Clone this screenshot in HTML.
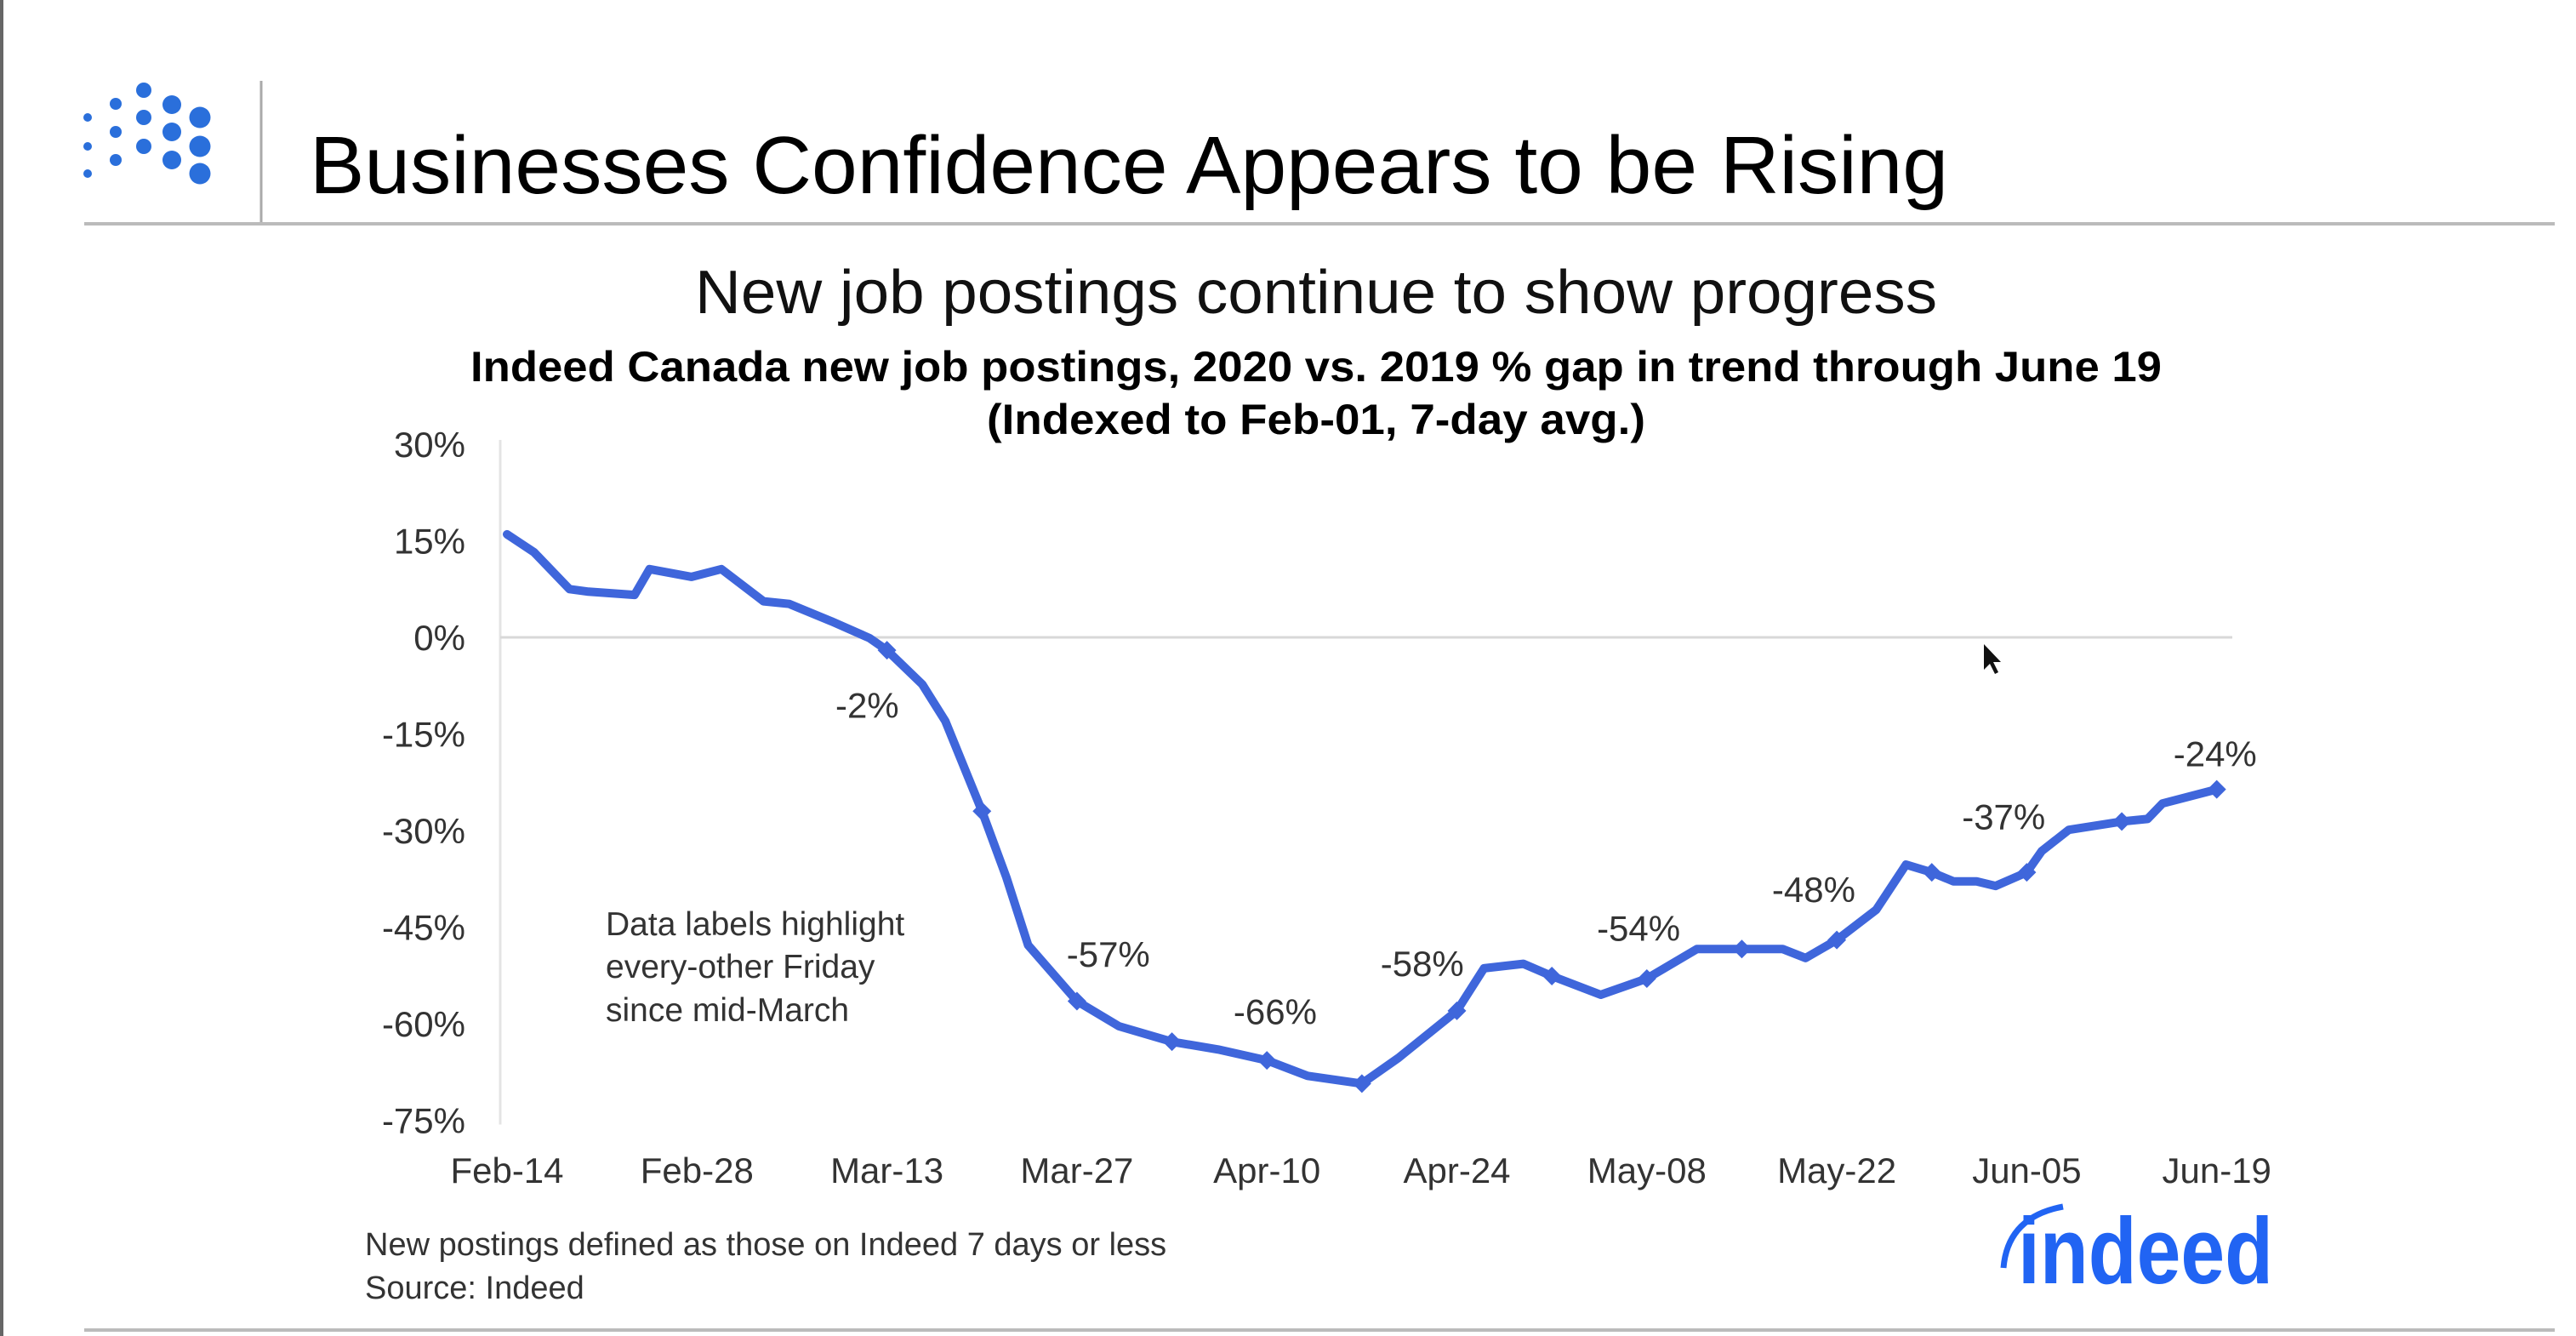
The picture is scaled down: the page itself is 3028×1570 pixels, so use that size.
<!DOCTYPE html>
<html><head><meta charset="utf-8">
<style>
html,body{margin:0;padding:0;background:#fff;}
svg{display:block;font-family:"Liberation Sans",sans-serif;}
</style></head>
<body>
<svg id="chart" width="3028" height="1570" viewBox="0 0 3028 1570">
  <rect x="0" y="0" width="3028" height="1570" fill="#fff"/>
  <rect x="0" y="0" width="4" height="1570" fill="#666"/>
  <g id="logo" fill="#2a6fdb">
    <circle cx="103" cy="138" r="5"/><circle cx="103" cy="172" r="5"/><circle cx="103" cy="204" r="5"/>
    <circle cx="136" cy="122" r="7"/><circle cx="136" cy="155" r="7"/><circle cx="136" cy="188" r="7"/>
    <circle cx="169" cy="106" r="9"/><circle cx="169" cy="138" r="9"/><circle cx="169" cy="172" r="9"/>
    <circle cx="202" cy="123" r="11"/><circle cx="202" cy="155" r="11"/><circle cx="202" cy="188" r="11"/>
    <circle cx="235" cy="138" r="12.5"/><circle cx="235" cy="172" r="12.5"/><circle cx="235" cy="204" r="12.5"/>
  </g>
  <line x1="307" y1="95" x2="307" y2="261" stroke="#aaa" stroke-width="3"/>
  <line x1="99" y1="263" x2="3003" y2="263" stroke="#bbb" stroke-width="4"/>
  <line x1="99" y1="1563" x2="3003" y2="1563" stroke="#bbb" stroke-width="4"/>
  <text x="364" y="227" font-size="96" fill="#000" textLength="1926" lengthAdjust="spacingAndGlyphs">Businesses Confidence Appears to be Rising</text>
  <text x="1547" y="368" font-size="72" fill="#111" text-anchor="middle" textLength="1460" lengthAdjust="spacingAndGlyphs">New job postings continue to show progress</text>
  <text x="1547" y="448" font-size="50" font-weight="bold" fill="#000" text-anchor="middle" textLength="1988" lengthAdjust="spacingAndGlyphs">Indeed Canada new job postings, 2020 vs. 2019 % gap in trend through June 19</text>
  <text x="1547" y="510" font-size="50" font-weight="bold" fill="#000" text-anchor="middle" textLength="774" lengthAdjust="spacingAndGlyphs">(Indexed to Feb-01, 7-day avg.)</text>
  <g id="axes"></g>
  <g id="series"></g>
  <text font-size="39" fill="#333">
    <tspan x="712" y="1099">Data labels highlight</tspan>
    <tspan x="712" y="1149">every-other Friday</tspan>
    <tspan x="712" y="1200">since mid-March</tspan>
  </text>
  <text font-size="38" fill="#333">
    <tspan x="429" y="1475">New postings defined as those on Indeed 7 days or less</tspan>
    <tspan x="429" y="1526">Source: Indeed</tspan>
  </text>
  <g>
    <text x="2372" y="1508" font-size="110" font-weight="bold" fill="#2164f3" textLength="300" lengthAdjust="spacingAndGlyphs">indeed</text>
    <path d="M2355 1490 Q2360 1430 2425 1418" stroke="#2164f3" stroke-width="7" fill="none"/>
  </g>
  <path d="M2332 757 L2332 787 L2339 780 L2345 792 L2349 790 L2343 778 L2352 778 Z" fill="#111"/>
</svg>
<script>
const days = [0,2,4.6,6,9.4,10.5,13.6,15.8,18.9,20.8,23.9,26.7,28,30.6,32.3,35,36.8,38.4,42,45.1,49,52.4,56,59,63,65.7,70,72,74.9,77,80.6,84,87.7,91,94,95.7,98,100.9,103.1,105,106.6,108.3,109.7,112,113.1,115.1,119,120.9,122,126];
const values = [16,13.2,7.5,7.1,6.6,10.6,9.4,10.6,5.6,5.2,2.5,-0.1,-2,-7.3,-13,-27,-37.3,-47.8,-56.5,-60.4,-62.8,-64,-65.7,-68.1,-69.3,-65.3,-58,-51.4,-50.7,-52.6,-55.5,-53,-48.4,-48.4,-48.4,-49.8,-47,-42.3,-35.3,-36.5,-37.9,-37.9,-38.6,-36.5,-33.2,-29.9,-28.6,-28.2,-25.8,-23.6];
const markerDays = [28,35,42,49,56,63,70,77,84,91,98,105,112,119,126];
const labelDays = [28,42,56,70,84,98,112,126];
const labelTexts = ["-2%","-57%","-66%","-58%","-54%","-48%","-37%","-24%"];
const yTicks = [30,15,0,-15,-30,-45,-60,-75];
const xTickDays = [0,14,28,42,56,70,84,98,112,126];
const xTickLabels = ["Feb-14","Feb-28","Mar-13","Mar-27","Apr-10","Apr-24","May-08","May-22","Jun-05","Jun-19"];

const NS = "http://www.w3.org/2000/svg";
const X0 = 596, PXD = 15.95, Y0 = 749, PXV = 113.5/15;
function xs(d){ return X0 + d*PXD; }
function ys(v){ return Y0 - v*PXV; }
function valAt(d){
  for (let i=0;i<days.length-1;i++){
    if (d>=days[i] && d<=days[i+1]){ const t=(d-days[i])/(days[i+1]-days[i]); return values[i]+t*(values[i+1]-values[i]); }
  }
  return values[values.length-1];
}
function mk(tag, attrs, parent){ const e=document.createElementNS(NS,tag); for(const k in attrs) e.setAttribute(k,attrs[k]); parent.appendChild(e); return e; }

const axes = document.getElementById('axes');
const series = document.getElementById('series');

const yAxis = mk('line',{x1:588,y1:ys(30)-5,x2:588,y2:ys(-75)+5,stroke:'#e4e4e4','stroke-width':3},axes);


const zero = mk('line',{x1:588,y1:ys(0),x2:2624,y2:ys(0),stroke:'#d8d8d8','stroke-width':3},axes);



yTicks.forEach(v=>{
  const t = mk('text',{x:547,y:ys(v)+15,'font-size':42,fill:'#333','text-anchor':'end'},axes);
  t.textContent = v+'%';
  
  
});
xTickDays.forEach((d,i)=>{
  const t = mk('text',{x:xs(d),y:1390,'font-size':42,fill:'#333','text-anchor':'middle'},axes);
  t.textContent = xTickLabels[i];
  
  
});

let dstr = '';
days.forEach((d,i)=>{ dstr += (i?'L':'M') + xs(d).toFixed(1) + ' ' + ys(values[i]).toFixed(1) + ' '; });
const line = mk('path',{d:dstr,fill:'none',stroke:'#3f66db','stroke-width':10,'stroke-linejoin':'round','stroke-linecap':'round'},series);



markerDays.forEach(d=>{
  const cx = xs(d), cy = ys(valAt(d)), r = 11;
  const m = mk('path',{d:`M${cx} ${cy-r} L${cx+r} ${cy} L${cx} ${cy+r} L${cx-r} ${cy} Z`,fill:'#3f66db'},series);
  
  
});

const labelOffsets = [[-12,41],[19,-21],[5,-22],[-21,-21],[-5,-23],[-14,-23],[-14,-26],[-1,-14]];
labelDays.forEach((d,i)=>{
  const cx = xs(d), cy = ys(valAt(d));
  const t = mk('text',{x:cx+labelOffsets[i][0]*1.94,y:cy+labelOffsets[i][1]*1.94,'font-size':42,fill:'#333','text-anchor':'middle'},series);
  t.textContent = labelTexts[i];
  
  
});
</script>
</body></html>
